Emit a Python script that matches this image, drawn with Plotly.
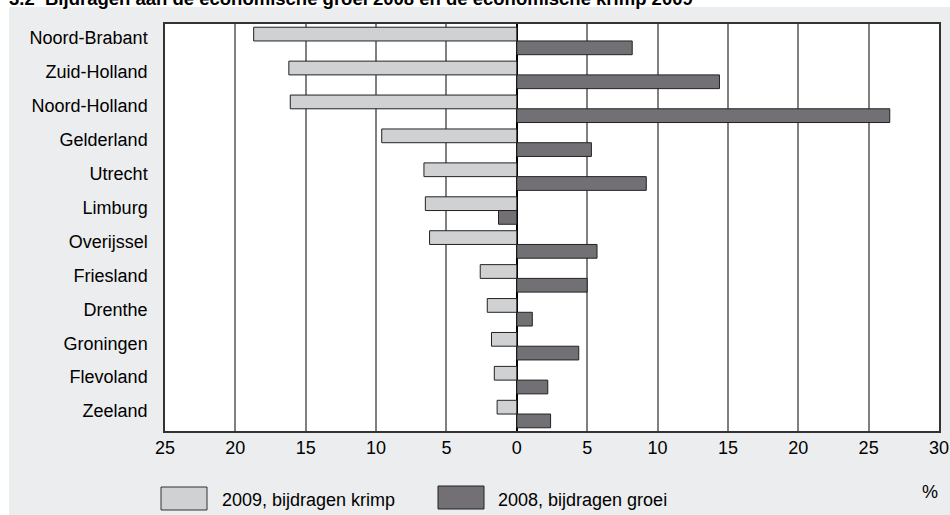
import plotly.graph_objects as go

provinces = ["Noord-Brabant", "Zuid-Holland", "Noord-Holland", "Gelderland", "Utrecht",
             "Limburg", "Overijssel", "Friesland", "Drenthe", "Groningen", "Flevoland", "Zeeland"]
krimp_2009 = [-18.7, -16.2, -16.1, -9.6, -6.6, -6.5, -6.2, -2.6, -2.1, -1.8, -1.6, -1.4]
groei_2008 = [8.2, 14.4, 26.5, 5.3, 9.2, -1.3, 5.7, 5.0, 1.1, 4.4, 2.2, 2.4]
tick_vals = [-25, -20, -15, -10, -5, 0, 5, 10, 15, 20, 25, 30]
tick_text = ["25", "20", "15", "10", "5", "0", "5", "10", "15", "20", "25", "30"]

title = "3.2  Bijdragen aan de economische groei 2008 en de economische krimp 2009"
leg1 = "2009, bijdragen krimp"
leg2 = "2008, bijdragen groei"

LIGHT = "#d0d1d3"
DARK = "#737075"
BG = "#ecedee"
FONT = "Liberation Sans, Arial, sans-serif"

W, H = 950, 515
L, R, T, B = 165, 11, 24, 84
pw, ph = W - L - R, H - T - B


def px(x):
    return (x - L) / pw


def py(y):
    return (H - B - y) / ph


fig = go.Figure()
fig.add_trace(go.Bar(y=provinces, x=krimp_2009, orientation="h", name=leg1,
                     marker=dict(color=LIGHT, line=dict(color="#222222", width=1)),
                     showlegend=False))
fig.add_trace(go.Bar(y=provinces, x=groei_2008, orientation="h", name=leg2,
                     marker=dict(color=DARK, line=dict(color="#222222", width=1)),
                     showlegend=False))

shapes = [
    # white strips outside the grey panel
    dict(type="rect", xref="paper", yref="paper", x0=px(-5), x1=px(W + 5), y0=py(7), y1=py(-5),
         fillcolor="white", line=dict(width=0), layer="below"),
    dict(type="rect", xref="paper", yref="paper", x0=px(-5), x1=px(9), y0=py(H + 5), y1=py(-5),
         fillcolor="white", line=dict(width=0), layer="below"),
    # legend boxes
    dict(type="rect", xref="paper", yref="paper", x0=px(161), x1=px(207), y0=py(510), y1=py(487),
         fillcolor=LIGHT, line=dict(color="#333333", width=1)),
    dict(type="rect", xref="paper", yref="paper", x0=px(438), x1=px(484), y0=py(509), y1=py(486),
         fillcolor=DARK, line=dict(color="#222222", width=1)),
]

annotations = [
    dict(text="<b>" + title + "</b>", xref="paper", yref="paper", x=px(7), y=py(-1.2),
         xanchor="left", yanchor="middle", showarrow=False,
         font=dict(size=18.5, color="black", family=FONT)),
    dict(text=leg1, xref="paper", yref="paper", x=px(220), y=py(500),
         xanchor="left", yanchor="middle", showarrow=False,
         font=dict(size=18, color="black", family=FONT)),
    dict(text=leg2, xref="paper", yref="paper", x=px(496), y=py(500),
         xanchor="left", yanchor="middle", showarrow=False,
         font=dict(size=18, color="black", family=FONT)),
    dict(text="%", xref="paper", yref="paper", x=px(940), y=py(492),
         xanchor="right", yanchor="middle", showarrow=False,
         font=dict(size=18, color="black", family=FONT)),
]

fig.update_layout(
    width=W, height=H,
    margin=dict(l=L, r=R, t=T, b=B, pad=0, autoexpand=False),
    paper_bgcolor=BG, plot_bgcolor="white",
    barmode="group", bargap=0.19, bargroupgap=0,
    font=dict(family=FONT, size=18, color="black"),
    shapes=shapes, annotations=annotations,
    showlegend=False,
)
fig.update_xaxes(range=[-25, 30], tickvals=tick_vals, ticktext=tick_text, automargin=False,
                 showgrid=True, gridcolor="#808080", gridwidth=1.5,
                 zeroline=True, zerolinecolor="black", zerolinewidth=1.5,
                 showline=True, linecolor="#333333", linewidth=1.5, mirror=True,
                 ticks="", ticklen=0, ticklabelstandoff=0, tickfont=dict(size=18),
                 fixedrange=True)
fig.update_yaxes(autorange="reversed", showgrid=False, zeroline=False, automargin=False,
                 showline=True, linecolor="#333333", linewidth=1.5, mirror=True,
                 ticks="", ticklen=0, ticklabelstandoff=12, ticklabelshift=3,
                 tickfont=dict(size=18), fixedrange=True)

post = ("document.body.style.margin='0';document.body.style.padding='0';"
        "document.body.style.overflow='hidden';"
        "document.documentElement.style.overflow='hidden';")
fig.write_html("out.html", post_script=post, config={"displayModeBar": False})
